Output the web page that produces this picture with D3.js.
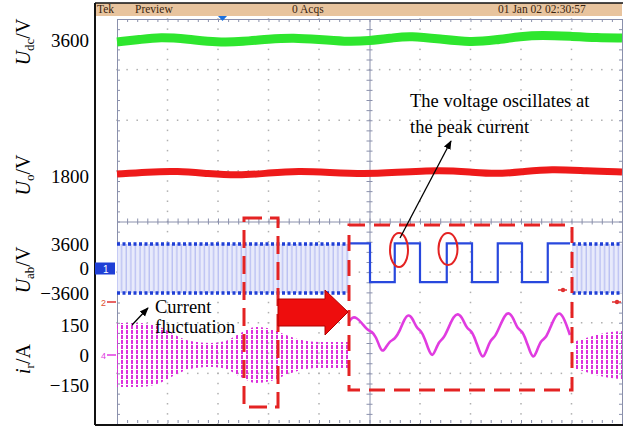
<!DOCTYPE html>
<html><head><meta charset="utf-8">
<script src="https://cdn.jsdelivr.net/npm/d3@7"></script>
<style>body{margin:0;background:#fff}svg{display:block}</style>
</head><body>
<script>
// ---------------- data (time in screen divisions 0..10) ----------------
const udcT = [0,0.45,0.85,1.4,1.98,2.5,3.0,3.5,4.0,4.5,5.0,5.5,5.8,6.4,7.0,7.5,8.0,8.4,9.0,9.5,10];
const udcV = [3590,3602,3615,3605,3588,3592,3605,3612,3602,3592,3595,3612,3620,3605,3588,3600,3618,3625,3618,3612,3610];
const uoT  = [0,0.6,1.2,1.8,2.4,3.0,3.6,4.2,4.9,5.5,6.4,7.0,7.5,8.0,8.6,9.3,10];
const uoV  = [1810,1820,1825,1812,1802,1815,1825,1818,1810,1818,1830,1820,1810,1820,1835,1825,1820];
const pwmSpans = [[0,4.6],[9.02,10]];
const uabWinT = [4.59,5.01,5.50,6.00,6.53,7.03,7.54,8.02,8.53,8.97];
const uabWinV = [3700,-2000,3700,-2000,3700,-2000,3700,-2000,3700,3700];
const irEnv1T = [0,0.45,0.85,1.15,1.45,1.85,2.15,2.45,2.75,3.05,3.35,3.65,4.0,4.6];
const irEnv1A = [160,160,140,100,70,60,70,110,140,130,100,75,65,65];
const irEnv2T = [9.03,9.35,9.65,10];
const irEnv2A = [65,90,110,120];
const irWinT = [4.59,4.66,4.74,4.85,4.95,5.05,5.13,5.2,5.26,5.32,5.4,5.5,5.6,5.69,5.77,5.85,5.93,6.02,6.1,6.17,6.24,6.3,6.38,6.47,6.57,6.67,6.76,6.85,6.93,7.02,7.1,7.18,7.25,7.32,7.4,7.49,7.59,7.68,7.76,7.85,7.93,8.02,8.1,8.18,8.25,8.32,8.4,8.5,8.6,8.69,8.77,8.86,8.97];
const irWinV = [165,190,188,160,125,118,90,40,15,35,70,78,120,180,205,185,135,122,80,25,-10,20,70,82,140,195,210,180,130,122,75,15,-20,25,78,90,150,200,215,185,130,122,75,15,-20,25,75,85,150,200,215,180,100];
const udcTicks = [3600];
const uoTicks = [1800];
const uabTicks = [3600,0,-3600];
const irTicks = [150,0,-150];

// ---------------- scales ----------------
const W = 627, H = 429;
const x = d3.scaleLinear().domain([0,10]).range([117,622]);
const gy = d3.scaleLinear().domain([-4,4]).range([424,19]);
const yUdc = d3.scaleLinear().domain([3500,3700]).range([60,20]);
const yUo = d3.scaleLinear().domain([1700,1900]).range([196,156]);
const yUab = d3.scaleLinear().domain([-3600,3600]).range([293,244]);
const yIr = d3.scaleLinear().domain([-150,150]).range([385,325]);

const svg = d3.select("body").append("svg").attr("width",W).attr("height",H)
  .style("font-family","'Liberation Serif','Times New Roman',serif");
const defs = svg.append("defs");

// patterns
const pp = defs.append("pattern").attr("id","pwm").attr("patternUnits","userSpaceOnUse")
  .attr("x",0).attr("y",yUab(3600)).attr("width",4.6).attr("height",yUab(-3600)-yUab(3600));
pp.append("rect").attr("width",4.6).attr("height",60).attr("fill","#e8eafb");
pp.append("line").attr("x1",2).attr("x2",2).attr("y1",0).attr("y2",60).attr("stroke","#aab2f0").attr("stroke-width",1);
const ip = defs.append("pattern").attr("id","irp").attr("patternUnits","userSpaceOnUse")
  .attr("x",0).attr("y",0).attr("width",5).attr("height",5);
ip.append("rect").attr("x",1).attr("y",0).attr("width",2).attr("height",4).attr("fill","#dc30dc");

defs.append("marker").attr("id","ah").attr("viewBox","0 0 10 10").attr("refX",9).attr("refY",5)
  .attr("markerWidth",7).attr("markerHeight",7).attr("orient","auto-start-reverse")
  .append("path").attr("d","M0,1 L10,5 L0,9 z").attr("fill","#000");

// ---------------- frame & header ----------------
svg.append("rect").attr("x",95).attr("y",3).attr("width",527).attr("height",13).attr("fill","#e8c49e");
const hdr = svg.append("g").attr("fill","#3a2410").attr("font-size",11.5);
hdr.append("text").attr("x",97).attr("y",13).text("Tek");
hdr.append("text").attr("x",135).attr("y",13).text("Preview");
hdr.append("text").attr("x",292).attr("y",13).text("0 Acqs");
hdr.append("text").attr("x",498).attr("y",13).text("01 Jan 02 02:30:57");

// grid dots
const majorX = d3.range(1,10).filter(d=>d!==5);
const majorY = d3.range(-3,4).filter(d=>d!==0);
const minorX = d3.range(0,10.001,0.2);
const minorY = d3.range(-4,4.001,0.2);
const grid = svg.append("g").attr("fill","#b0b0b0");
majorX.forEach(t=>minorY.forEach(v=>grid.append("rect").attr("x",x(t)-0.75).attr("y",gy(v)-0.75).attr("width",1.5).attr("height",1.5)));
majorY.forEach(v=>minorX.forEach(t=>grid.append("rect").attr("x",x(t)-0.75).attr("y",gy(v)-0.75).attr("width",1.5).attr("height",1.5)));

// centre lines & edge ticks via axes
const tcol = "#8a90ac";
function styleAxis(g){ g.selectAll("path").attr("stroke",tcol); g.selectAll("line").attr("stroke",tcol); g.selectAll("text").remove(); }
svg.append("g").attr("transform",`translate(0,${gy(0)})`).call(d3.axisBottom(x).tickValues(minorX).tickSize(3).tickSizeOuter(0)).call(styleAxis)
  .selectAll(".tick line").attr("y1",-3);
svg.append("g").attr("transform",`translate(${x(5)},0)`).call(d3.axisLeft(gy).tickValues(minorY).tickSize(3).tickSizeOuter(0)).call(styleAxis)
  .selectAll(".tick line").attr("x1",3);
svg.append("g").attr("transform",`translate(0,${gy(4)})`).call(d3.axisBottom(x).tickValues(minorX).tickSize(3).tickSizeOuter(0)).call(styleAxis);
svg.append("g").attr("transform",`translate(0,${gy(-4)-1})`).call(d3.axisTop(x).tickValues(minorX).tickSize(3).tickSizeOuter(0)).call(styleAxis)
  .select("path").remove();
svg.append("g").attr("transform",`translate(${x(0)},0)`).call(d3.axisRight(gy).tickValues(minorY).tickSize(3).tickSizeOuter(0)).call(styleAxis);
svg.append("g").attr("transform",`translate(${x(10)},0)`).call(d3.axisLeft(gy).tickValues(minorY).tickSize(3).tickSizeOuter(0)).call(styleAxis);

// outer frame
svg.append("line").attr("x1",95).attr("x2",95).attr("y1",3).attr("y2",425).attr("stroke","#111").attr("stroke-width",2);
svg.append("line").attr("x1",95).attr("x2",623).attr("y1",3).attr("y2",3).attr("stroke","#111").attr("stroke-width",1.5);
svg.append("line").attr("x1",95).attr("x2",623).attr("y1",425).attr("y2",425).attr("stroke","#111").attr("stroke-width",2);

// ---------------- traces ----------------
const zip = (T,V)=>T.map((t,i)=>({t,v:V[i]}));
svg.append("path").datum(zip(udcT,udcV))
  .attr("d",d3.line().x(d=>x(d.t)).y(d=>yUdc(d.v)).curve(d3.curveBasis))
  .attr("fill","none").attr("stroke","#2ee62e").attr("stroke-width",9);
svg.append("path").datum(zip(uoT,uoV))
  .attr("d",d3.line().x(d=>x(d.t)).y(d=>yUo(d.v)).curve(d3.curveBasis))
  .attr("fill","none").attr("stroke","#ee1a1a").attr("stroke-width",7);

// Uab PWM
pwmSpans.forEach(([a,b])=>{
  svg.append("rect").attr("x",x(a)).attr("y",yUab(3600)).attr("width",x(b)-x(a)).attr("height",yUab(-3600)-yUab(3600)).attr("fill","url(#pwm)");
  [3600,-3600].forEach(v=>svg.append("line").attr("x1",x(a)).attr("x2",x(b)).attr("y1",yUab(v)).attr("y2",yUab(v))
    .attr("stroke","#1f3fd6").attr("stroke-width",3.5).attr("stroke-dasharray","3,2.5"));
});
svg.append("path").datum(zip(uabWinT,uabWinV))
  .attr("d",d3.line().x(d=>x(d.t)).y(d=>yUab(d.v)).curve(d3.curveStepAfter))
  .attr("fill","none").attr("stroke","#2848dd").attr("stroke-width",2.2);

// ir
[[irEnv1T,irEnv1A],[irEnv2T,irEnv2A]].forEach(([T,A])=>{
  svg.append("path").datum(zip(T,A))
    .attr("d",d3.area().x(d=>x(d.t)).y0(d=>yIr(-d.v)).y1(d=>yIr(d.v)).curve(d3.curveMonotoneX))
    .attr("fill","url(#irp)");
});
svg.append("path").datum(zip(irWinT,irWinV))
  .attr("d",d3.line().x(d=>x(d.t)).y(d=>yIr(d.v)).curve(d3.curveBasis))
  .attr("fill","none").attr("stroke","#e03ce0").attr("stroke-width",2.6);

// channel markers
svg.append("rect").attr("x",95).attr("y",yUab(0)-6).attr("width",20).attr("height",12).attr("fill","#1f3fd6");
svg.append("text").attr("x",103).attr("y",yUab(0)+4).attr("fill","#fff").attr("font-size",10).attr("font-family","Arial").text("1");
svg.append("text").attr("x",101).attr("y",306).attr("fill","#e05030").attr("font-size",9).attr("font-family","Arial").text("2");
svg.append("line").attr("x1",107).attr("x2",116).attr("y1",302).attr("y2",302).attr("stroke","#e03030").attr("stroke-width",1.5);
svg.append("text").attr("x",101).attr("y",yIr(0)+4).attr("fill","#e03ce0").attr("font-size",9).attr("font-family","Arial").text("4");
svg.append("line").attr("x1",107).attr("x2",116).attr("y1",yIr(0)).attr("y2",yIr(0)).attr("stroke","#e03ce0").attr("stroke-width",1.5);
[[563,290],[617,302]].forEach(([a,b])=>{
  svg.append("line").attr("x1",a-5).attr("x2",a+4).attr("y1",b).attr("y2",b).attr("stroke","#e03030").attr("stroke-width",1.5);
  svg.append("circle").attr("cx",a).attr("cy",b).attr("r",2.2).attr("fill","#e03030");
});
svg.append("path").attr("d","M218,16 L227,16 L222.5,21 Z").attr("fill","#1a70e0");

// ---------------- axis labels (left) ----------------
function leftAxis(scale,ticks){
  const g = svg.append("g").attr("transform","translate(95,0)")
    .call(d3.axisLeft(scale).tickValues(ticks).tickFormat(d3.format("d")).tickSize(0).tickPadding(6));
  g.select("path").remove();
  g.selectAll("text").attr("font-family","'Liberation Serif',serif").attr("font-size",19).attr("fill","#000");
}
leftAxis(yUdc,udcTicks); leftAxis(yUo,uoTicks); leftAxis(yUab,uabTicks); leftAxis(yIr,irTicks);

function title(cy, main, sub, unit){
  const t = svg.append("text").attr("transform",`translate(30,${cy}) rotate(-90)`).attr("text-anchor","middle")
    .attr("font-size",20).attr("fill","#000");
  t.append("tspan").attr("font-style","italic").text(main);
  t.append("tspan").attr("font-size",13).attr("dy",4).text(sub);
  t.append("tspan").attr("dy",-4).text("/"+unit);
}
title(42,"U","dc","V"); title(175,"U","o","V"); title(270,"U","ab","V"); title(359,"i","r","A");

// ---------------- annotations ----------------
const red = "#e42323";
svg.append("rect").attr("x",244).attr("y",218).attr("width",34).attr("height",189).attr("fill","none")
  .attr("stroke",red).attr("stroke-width",3).attr("stroke-dasharray","18,8");
svg.append("rect").attr("x",349).attr("y",225).attr("width",223).attr("height",165).attr("fill","none")
  .attr("stroke",red).attr("stroke-width",3).attr("stroke-dasharray","16,9");
svg.append("path").attr("d","M278,299 L325,299 L325,290 L348,312 L325,335 L325,326 L278,326 Z")
  .attr("fill","#ee0d0d").attr("stroke","#b00000").attr("stroke-width",1);
svg.append("ellipse").attr("cx",399).attr("cy",250).attr("rx",9).attr("ry",17).attr("fill","none").attr("stroke",red).attr("stroke-width",2);
svg.append("ellipse").attr("cx",448).attr("cy",249).attr("rx",9.5).attr("ry",16).attr("fill","none").attr("stroke",red).attr("stroke-width",2);
svg.append("line").attr("x1",400).attr("y1",238).attr("x2",451).attr("y2",141).attr("stroke","#000").attr("stroke-width",1.3).attr("marker-end","url(#ah)");
svg.append("line").attr("x1",132).attr("y1",325).attr("x2",148).attr("y2",308).attr("stroke","#000").attr("stroke-width",1.3).attr("marker-end","url(#ah)");
const ann = svg.append("g").attr("font-size",18.5).attr("fill","#000");
ann.append("text").attr("x",410).attr("y",107).text("The voltage oscillates at");
ann.append("text").attr("x",410).attr("y",133).text("the peak current");
ann.append("text").attr("x",155).attr("y",313).text("Current");
ann.append("text").attr("x",155).attr("y",333).text("fluctuation");
</script>
</body></html>
